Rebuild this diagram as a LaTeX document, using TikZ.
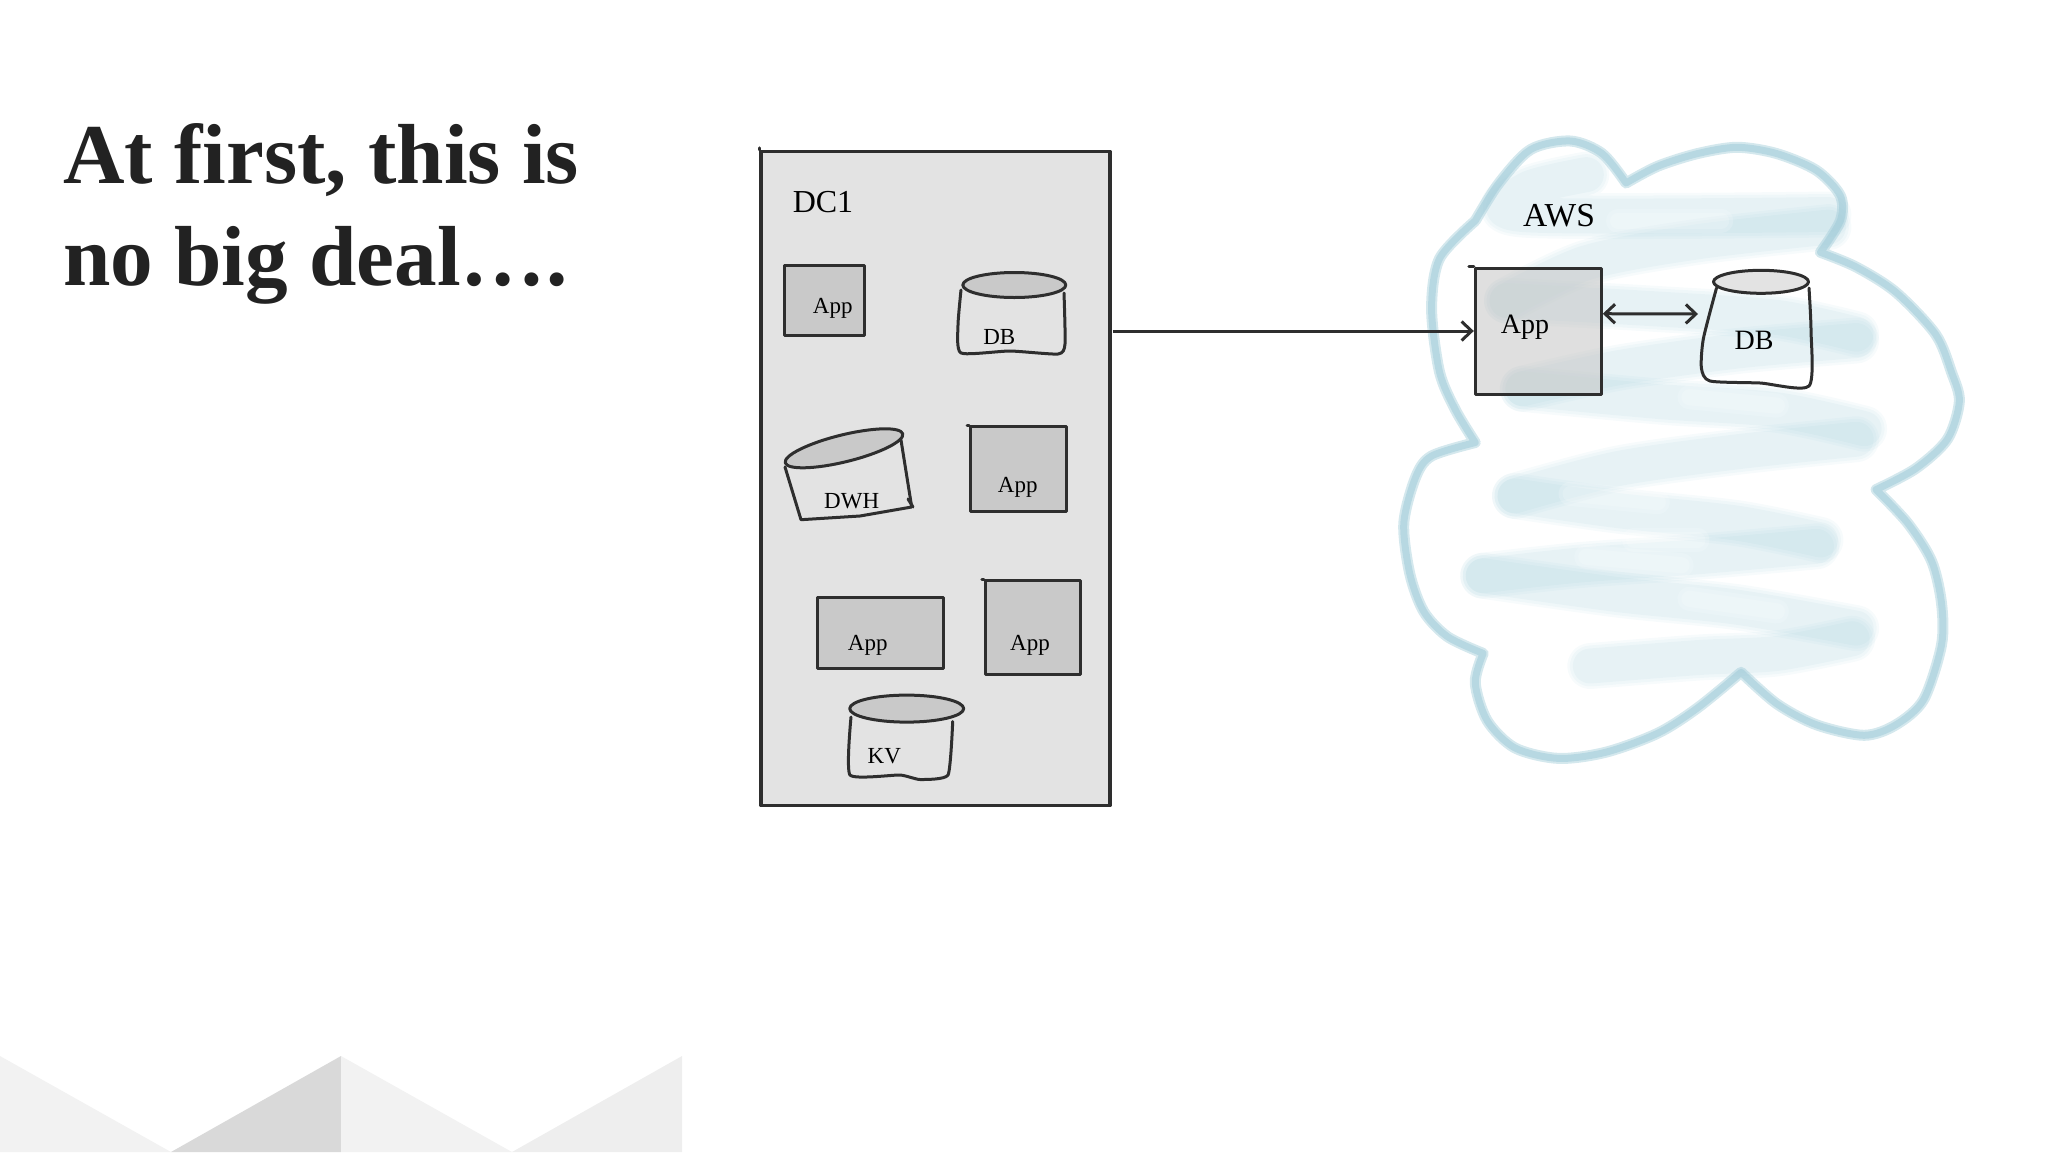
\documentclass[tikz,border=0pt]{standalone}
\usepackage{fontspec}
\setmainfont{Liberation Serif}
\usetikzlibrary{arrows.meta,shapes.geometric}
\definecolor{inkgray}{HTML}{2E2E2E}
\definecolor{dcgray}{HTML}{E3E3E3}
\definecolor{appgray}{HTML}{C9C9C9}
\definecolor{titleink}{HTML}{222222}
\definecolor{cloudblue}{HTML}{A0CBD8}
\definecolor{washblue}{HTML}{A9D2DD}
\begin{document}
\begin{tikzpicture}[x=1pt,y=-1pt,>={Straight Barb[length=10pt,width=19pt]},
    ink/.style={draw=inkgray,line width=3pt,line join=round,line cap=round},
    appbox/.style={ink,fill=appgray,inner sep=0pt},
    dbtop/.style={ink,ellipse,fill=appgray,inner sep=0pt},
    lbl/.style={font=\fontsize{23}{23}\selectfont,text=black,inner sep=0pt},
    biglbl/.style={font=\fontsize{28}{28}\selectfont,text=black,inner sep=0pt},
    titletext/.style={font=\fontsize{85.2}{85.2}\selectfont\bfseries,text=titleink,inner sep=0pt,anchor=base west},
    wash/.style={washblue,line cap=round,line join=round}]
  \useasboundingbox (0,0) rectangle (2048,1152);

  % corner triangles
  \fill[gray!10] (0,1056) -- (171,1152) -- (0,1152) -- cycle;
  \fill[gray!30] (171,1152) -- (341,1056) -- (341,1152) -- cycle;
  \fill[gray!10] (341,1056) -- (512,1152) -- (341,1152) -- cycle;
  \fill[gray!13] (512,1152) -- (682,1056) -- (682,1152) -- cycle;

  \node[titletext] (line1) at (63,183) {At first, this is};
  \node[titletext] (line2) at (63,285) {no big deal….};

  % DC1 box
  \node[ink,fill=dcgray,line width=3.5pt,minimum width=349pt,minimum height=654pt,inner sep=0pt] (dc) at (935.5,478.5) {};
  \draw[ink] (dc.north west) -- ++(0,-2);
  \node[font=\fontsize{32}{32}\selectfont,inner sep=0pt] (dclabel) at (823,202) {DC1};

  \foreach \name/\x/\y/\w/\h/\lx/\ly in {
      appa/824/300.5/80/70/832.7/308,
      appb/1018.7/469.3/96/85/1017.7/487,
      appc/880/633/126/71/867.7/645,
      appd/1032.8/627.8/95/94/1030/645}
    \node[appbox,minimum width=\w pt,minimum height=\h pt] (\name) at (\x,\y) {}
      node[lbl] (\name label) at (\lx,\ly) {App};
  \draw[ink] (appb.north west) -- ++(-2,0);
  \draw[ink] (appd.north west) -- ++(-2,0);

  % DB
  \draw[ink] plot[smooth,tension=.35] coordinates {(961,290) (958,325) (961,353) (1010,351) (1058,354) (1065,344) (1064,293)};
  \node[dbtop,minimum width=103pt,minimum height=25pt] (db) at (1014.3,285) {};
  \node[lbl] (dblabel) at (999.3,337) {DB};

  % DWH
  \draw[ink] (785,467) -- (801,519.7) -- (860,516) -- (911.7,507) -- (901,440);
  \draw[ink] (908,499) -- (913,507);
  \node[dbtop,minimum width=121pt,minimum height=27pt,rotate=13.8] (dwh) at (844,448.3) {};
  \node[lbl] (dwhlabel) at (851.7,501) {DWH};

  % KV
  \draw[ink] plot[smooth,tension=.3] coordinates {(851,717) (850,775) (900,775) (920,779.5) (948,775) (952.7,721.5)};
  \node[dbtop,minimum width=114pt,minimum height=27pt] (kv) at (906.7,708.6) {};
  \node[lbl] (kvlabel) at (884.3,756) {KV};

  % wash and outline of the cloud
  \begin{scope}[shift={(1380,120)},x=0.3968pt,y=-0.42pt]
    \foreach \lw/\op in {46/.09,41/.10,35/.12}
      \foreach \ax/\ay/\bx/\by/\cx/\cy/\dx/\dy in {
          520/130/370/165/360/225/1130/225,
          1130/255/800/290/520/340/320/430,
          320/430/700/450/1000/470/1200/510,
          1200/525/900/550/600/590/360/640,
          360/640/700/670/1000/690/1220/735,
          1200/760/900/790/600/830/340/895,
          340/895/600/930/900/960/1110/1000,
          1100/1015/800/1040/500/1060/260/1085,
          260/1085/600/1130/900/1160/1200/1210,
          1190/1235/1000/1270/800/1280/530/1300}
        \draw[wash,line width=\lw pt,opacity=\op] plot[smooth] coordinates {(\ax,\ay) (\bx,\by) (\cx,\cy) (\dx,\dy)};
    \foreach \lw/\op in {24/.16,16/.16}
      \foreach \ax/\ay/\bx/\by in {640/1000/800/1000, 480/890/700/910, 600/240/860/240, 780/660/1000/680, 780/1140/1000/1170, 520/1040/760/1060}
        \draw[white,line width=\lw pt,opacity=\op,line cap=round] (\ax,\ay) -- (\bx,\by);
    \foreach \lw/\op in {11/.45,7/.55}
      \draw[cloudblue,line width=\lw pt,opacity=\op,line cap=round,line join=round]
        plot[smooth] coordinates {(620,150) (700,110) (800,80) (900,65) (1000,80) (1100,120) (1160,180) (1160,240) (1110,315)}
        plot[smooth] coordinates {(1110,315) (1200,350) (1300,410) (1400,510) (1440,600) (1460,670) (1430,760) (1350,830) (1250,880)}
        plot[smooth] coordinates {(1250,880) (1330,960) (1390,1050) (1415,1150) (1415,1250) (1370,1380) (1300,1440) (1220,1465) (1100,1440) (1000,1390) (910,1315)}
        plot[smooth] coordinates {(910,1315) (800,1400) (700,1460) (570,1505) (450,1520) (340,1495) (270,1430) (240,1340) (260,1270)}
        plot[smooth] coordinates {(260,1270) (170,1230) (110,1170) (75,1080) (60,960) (90,850) (130,800) (240,768)}
        plot[smooth] coordinates {(240,768) (190,690) (150,600) (130,450) (150,330) (240,240)}
        plot[smooth] coordinates {(240,240) (300,150) (380,70) (480,50) (560,80) (620,150)};
  \end{scope}
  \node[font=\fontsize{33.5}{33.5}\selectfont,inner sep=0pt] (awslabel) at (1559,216) {AWS};

  % AWS side
  \node[ink,fill=appgray,fill opacity=.6,minimum width=126pt,minimum height=126pt,inner sep=0pt] (awsapp) at (1538.3,331) {};
  \draw[ink] (awsapp.north west) -- ++(-5,0);
  \node[biglbl] (awsapplabel) at (1525,327) {App};
  \draw[ink] plot[smooth,tension=.4] coordinates {(1716.5,288) (1703.4,338.5) (1701.4,368) (1710,381) (1760,383) (1809,386) (1811,330) (1809,288)};
  \node[dbtop,fill=dcgray,minimum width=95pt,minimum height=23pt] (awsdb) at (1761,281.8) {};
  \node[biglbl] (awsdblabel) at (1754,340) {DB};

  \coordinate (dcout) at (1113,331);
  \coordinate (dbside) at (1698,314);
  \draw[->,draw=inkgray,line width=3pt] (dcout) -- (awsapp.west);
  \draw[<->,draw=inkgray,line width=3pt] (awsapp.15) -- (dbside);
\end{tikzpicture}
\end{document}
